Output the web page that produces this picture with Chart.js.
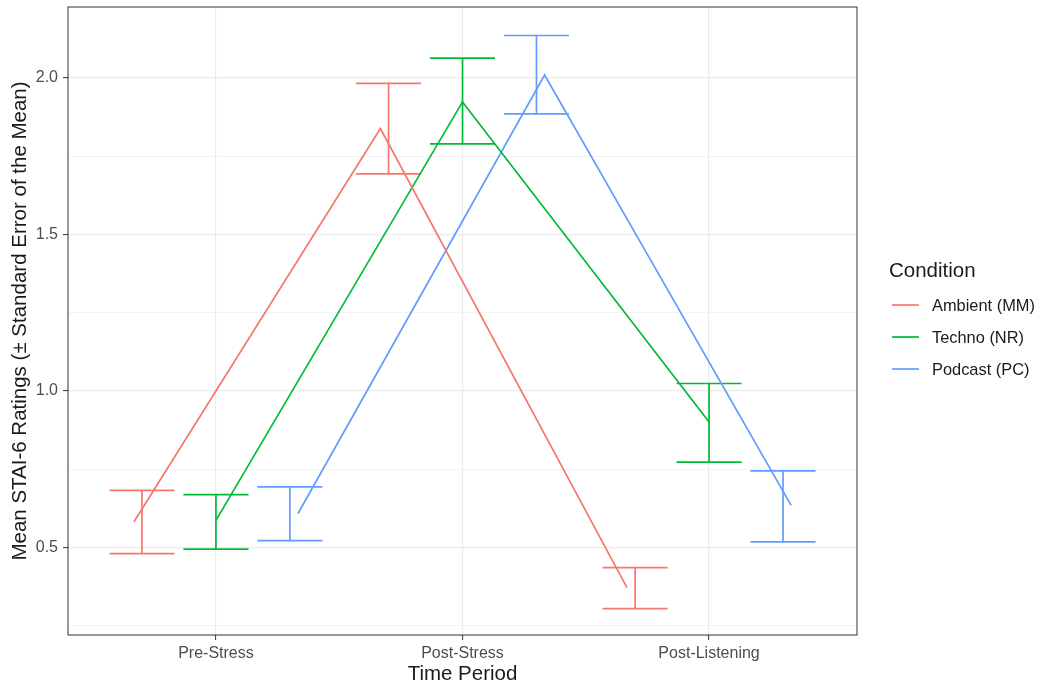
<!DOCTYPE html>
<html>
<head>
<meta charset="utf-8">
<script src="https://cdn.jsdelivr.net/npm/chart.js"></script>
<style>
  body { margin: 0; background: #fff; }
  canvas { display: block; }
</style>
</head>
<body>
<canvas id="chart" width="1040" height="686"></canvas>
<script>
// categories on the x axis
const periods = ["Pre-Stress", "Post-Stress", "Post-Listening"];
const conditions = ["Ambient (MM)", "Techno (NR)", "Podcast (PC)"];

// mean STAI-6 ratings per period
const ambientMean = [0.582, 1.838, 0.372];
const technoMean = [0.587, 1.923, 0.901];
const podcastMean = [0.609, 2.009, 0.635];

// error bar limits (mean +/- SE)
const ambientLow = [0.481, 1.693, 0.305];
const ambientHigh = [0.683, 1.982, 0.436];
const technoLow = [0.495, 1.789, 0.773];
const technoHigh = [0.669, 2.063, 1.024];
const podcastLow = [0.522, 1.885, 0.518];
const podcastHigh = [0.694, 2.135, 0.745];

// y ticks: labelled majors and unlabelled minors
const yMajor = [0.5, 1.0, 1.5, 2.0];
const yMinor = [0.25, 0.75, 1.25, 1.75];

// ggplot default hues
const colors = ["#F8766D", "#00BA38", "#619CFF"];
// dodge offsets (lines and error bars are dodged a bit differently)
const lineDodge = [-0.333, 0, 0.333];
const barDodge = [-0.3, 0, 0.3];
const capHalf = 0.132;

const means = [ambientMean, technoMean, podcastMean];
const lows = [ambientLow, technoLow, podcastLow];
const highs = [ambientHigh, technoHigh, podcastHigh];

// build the datasets
const datasets = [];
conditions.forEach((name, i) => {
  datasets.push({
    label: name,
    data: means[i].map((v, j) => ({ x: j + 1 + lineDodge[i], y: v })),
    borderColor: colors[i],
    borderWidth: 1.7,
    showLine: true,
    pointRadius: 0,
    pointHoverRadius: 0
  });
});
conditions.forEach((name, i) => {
  const pts = [];
  periods.forEach((p, j) => {
    const cx = j + 1 + barDodge[i];
    pts.push({ x: cx - capHalf, y: highs[i][j] }, { x: cx + capHalf, y: highs[i][j] }, { x: cx, y: null });
    pts.push({ x: cx, y: highs[i][j] }, { x: cx, y: lows[i][j] }, { x: cx, y: null });
    pts.push({ x: cx - capHalf, y: lows[i][j] }, { x: cx + capHalf, y: lows[i][j] }, { x: cx, y: null });
  });
  datasets.push({
    label: name + " SE",
    data: pts,
    borderColor: colors[i],
    borderWidth: 1.7,
    showLine: true,
    spanGaps: false,
    pointRadius: 0,
    pointHoverRadius: 0
  });
});

const isMinor = (v) => yMinor.some(m => Math.abs(m - v) < 1e-6);

// panel border drawn on top, ggplot theme_bw style
const panelBorder = {
  id: "panelBorder",
  afterDraw(chart) {
    const a = chart.chartArea;
    const ctx = chart.ctx;
    ctx.save();
    ctx.strokeStyle = "#333333";
    ctx.lineWidth = 1;
    ctx.strokeRect(a.left, a.top, a.right - a.left, a.bottom - a.top);
    ctx.restore();
  }
};

// legend to the right of the panel
const sideLegend = {
  id: "sideLegend",
  afterDraw(chart) {
    const ctx = chart.ctx;
    const x0 = chart.chartArea.right + 32;
    ctx.save();
    ctx.fillStyle = "#1a1a1a";
    ctx.textAlign = "left";
    ctx.textBaseline = "middle";
    ctx.font = '20.5px "Liberation Sans", Arial, sans-serif';
    ctx.fillText("Condition", x0, 271);
    ctx.font = '16.4px "Liberation Sans", Arial, sans-serif';
    conditions.forEach((name, i) => {
      const y = 305 + i * 32;
      ctx.strokeStyle = colors[i];
      ctx.lineWidth = 1.7;
      ctx.beginPath();
      ctx.moveTo(x0 + 3, y);
      ctx.lineTo(x0 + 30, y);
      ctx.stroke();
      ctx.fillStyle = "#1a1a1a";
      ctx.fillText(name, x0 + 43, y + 1);
    });
    ctx.restore();
  }
};

Chart.defaults.font.family = '"Liberation Sans", Arial, sans-serif';

new Chart(document.getElementById("chart").getContext("2d"), {
  type: "scatter",
  data: { datasets: datasets },
  options: {
    responsive: false,
    animation: false,
    events: [],
    layout: { padding: { top: 7, right: 183, left: 0, bottom: 0 } },
    plugins: {
      legend: { display: false },
      tooltip: { enabled: false }
    },
    scales: {
      x: {
        type: "linear",
        min: 0.4,
        max: 3.6,
        afterBuildTicks: (s) => { s.ticks = periods.map((p, j) => ({ value: j + 1 })); },
        afterFit: (s) => { s.height = 51; s.paddingLeft = 0; s.paddingRight = 0; },
        ticks: {
          autoSkip: false,
          maxRotation: 0,
          padding: 4,
          color: "#4d4d4d",
          font: { size: 16 },
          callback: (v) => periods[Math.round(v) - 1]
        },
        grid: {
          color: "#ebebeb",
          lineWidth: 1.2,
          tickLength: 5,
          tickColor: "#333333",
          tickWidth: 1
        },
        border: { display: false },
        title: {
          display: true,
          text: "Time Period",
          color: "#1a1a1a",
          font: { size: 20.5, lineHeight: 1 },
          padding: { top: 0, bottom: 1 }
        }
      },
      y: {
        type: "linear",
        min: 0.221,
        max: 2.226,
        afterBuildTicks: (s) => {
          s.ticks = yMajor.concat(yMinor).sort((a, b) => a - b).map(v => ({ value: v }));
        },
        afterFit: (s) => { s.width = 68; s.paddingTop = 0; s.paddingBottom = 0; },
        ticks: {
          autoSkip: false,
          padding: 5,
          color: "#4d4d4d",
          font: { size: 16 },
          callback: (v) => isMinor(v) ? "" : v.toFixed(1)
        },
        grid: {
          color: "#ebebeb",
          lineWidth: (c) => (c.tick && isMinor(c.tick.value)) ? 0.6 : 1.2,
          tickLength: 5,
          tickColor: (c) => (c.tick && isMinor(c.tick.value)) ? "rgba(0,0,0,0)" : "#333333",
          tickWidth: 1
        },
        border: { display: false },
        title: {
          display: true,
          text: "Mean STAI-6 Ratings (\u00b1 Standard Error of the Mean)",
          color: "#1a1a1a",
          font: { size: 20.5, lineHeight: 1.2 },
          padding: { top: 8, bottom: 0 }
        }
      }
    }
  },
  plugins: [panelBorder, sideLegend]
});
</script>
</body>
</html>
